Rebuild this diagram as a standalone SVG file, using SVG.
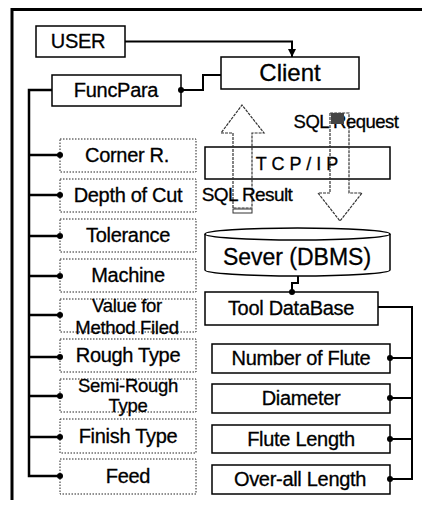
<svg xmlns="http://www.w3.org/2000/svg" width="422" height="506" viewBox="0 0 422 506">
<style>
text{font-family:"Liberation Sans",Arial,sans-serif;fill:#000;text-anchor:middle;stroke:#000;stroke-width:0.3}
.lbl{font-size:20px;letter-spacing:-0.3px}
.two{font-size:18.5px;letter-spacing:-0.3px}
.solid{fill:#fff;stroke:#000;stroke-width:1.5}
.dot{fill:#fff;stroke:#222;stroke-width:1;stroke-dasharray:1.5 1.5}
.big{font-size:24px}
.thick{fill:none;stroke:#000;stroke-width:2.5}
.thin{fill:none;stroke:#000;stroke-width:2}
.blk{fill:none;stroke:#333;stroke-width:1.2;stroke-dasharray:3 1}
.jn{fill:#000}
</style>
<defs>
<marker id="ah" viewBox="0 0 10 10" refX="10" refY="5" markerWidth="8" markerHeight="8" markerUnits="userSpaceOnUse" orient="auto"><path d="M0,0 L10,5 L0,10 Z" fill="#000"/></marker>
</defs>
<rect width="422" height="506" fill="#fff"/>
<path d="M12,500 L12,9.5 L422,9.5" fill="none" stroke="#000" stroke-width="3"/>

<g id="user"><rect class="solid" x="36" y="26" width="89" height="31"/><text class="lbl" x="78" y="48">USER</text></g>
<g id="client"><rect class="solid" x="221" y="57" width="138" height="32"/><text class="big" x="290" y="81">Client</text></g>
<g id="funcpara"><rect class="solid" x="52" y="75" width="129" height="31"/><text class="lbl" x="116" y="97">FuncPara</text></g>

<g id="tcpip"><rect class="solid" x="205" y="147" width="185" height="32"/><text x="297" y="170" style="font-size:18px">T C P / I P</text></g>

<g id="sql-result-arrow">
<path class="blk" d="M233,208 L233,133 L221,133 L242,105 L264,133 L252,133 L252,208 Z"/>
<rect x="233" y="209" width="19" height="4" fill="none" stroke="#333" stroke-width="1"/>
<text x="247" y="201" style="font-size:19px;letter-spacing:-0.6px">SQL Result</text>
</g>
<g id="sql-request-arrow">
<path class="blk" d="M330,113 L330,193 L318,193 L340,221 L362,193 L349,193 L349,113 Z"/>
<text x="346" y="128" style="font-size:18.5px;letter-spacing:-0.5px">SQL Request</text>
<rect x="331" y="113" width="13" height="11" fill="#444"/>
</g>

<g id="server">
<path class="solid" d="M205,234 A92.5,6 0 0 1 390,234 L390,270 A92.5,6 0 0 1 205,270 Z"/>
<path d="M205,234 A92.5,6 0 0 0 390,234" fill="none" stroke="#000" stroke-width="1.5"/>
<text x="297" y="265" style="font-size:23px">Sever (DBMS)</text>
</g>
<g id="tooldb"><rect class="solid" x="205" y="292" width="173" height="33"/><text class="lbl" x="291" y="315">Tool DataBase</text></g>

<g id="corner-r"><rect class="dot" x="60" y="139" width="136" height="33"/><text class="lbl" x="127" y="162">Corner R.</text></g>
<g id="depth-of-cut"><rect class="dot" x="60" y="179" width="136" height="33"/><text class="lbl" x="128" y="202">Depth of Cut</text></g>
<g id="tolerance"><rect class="dot" x="60" y="219" width="136" height="33"/><text class="lbl" x="128" y="242">Tolerance</text></g>
<g id="machine"><rect class="dot" x="60" y="259" width="136" height="33"/><text class="lbl" x="128" y="282">Machine</text></g>
<g id="value-for-method"><rect class="dot" x="60" y="299" width="136" height="33"/><text class="two" x="127" y="312">Value for</text><text class="two" x="127" y="334">Method Filed</text></g>
<g id="rough-type"><rect class="dot" x="60" y="339" width="136" height="33"/><text class="lbl" x="128" y="362">Rough Type</text></g>
<g id="semi-rough-type"><rect class="dot" x="60" y="379" width="136" height="33"/><text class="two" x="128" y="392">Semi-Rough</text><text class="two" x="128" y="412">Type</text></g>
<g id="finish-type"><rect class="dot" x="60" y="419" width="136" height="34"/><text class="lbl" x="128" y="443">Finish Type</text></g>
<g id="feed"><rect class="dot" x="60" y="459" width="136" height="35"/><text class="lbl" x="128" y="483">Feed</text></g>

<g id="number-of-flute"><rect class="solid" x="212" y="344" width="178" height="29"/><text class="lbl" x="301" y="365">Number of Flute</text></g>
<g id="diameter"><rect class="solid" x="212" y="384" width="178" height="29"/><text class="lbl" x="301" y="405">Diameter</text></g>
<g id="flute-length"><rect class="solid" x="212" y="425" width="178" height="28"/><text class="lbl" x="301" y="446">Flute Length</text></g>
<g id="overall-length"><rect class="solid" x="212" y="465" width="178" height="29"/><text class="lbl" x="300" y="486">Over-all Length</text></g>

<g id="connectors">
<path class="thin" d="M125,41.5 L292,41.5 L292,57" marker-end="url(#ah)"/>
<path class="thin" d="M221,75 L203,75 L203,90 L181,90"/>
<circle class="jn" cx="181" cy="90" r="3"/>
<path class="thick" d="M52,90 L29,90 L29,476 L60,476"/>
<path class="thick" d="M29,155 H60 M29,195 H60 M29,236 H60 M29,276 H60 M29,315 H60 M29,357 H60 M29,396 H60 M29,437 H60"/>
<g class="jn">
<circle cx="60" cy="155" r="3"/><circle cx="60" cy="195" r="3"/><circle cx="60" cy="236" r="3"/><circle cx="60" cy="276" r="3"/><circle cx="60" cy="315" r="3"/><circle cx="60" cy="357" r="3"/><circle cx="60" cy="396" r="3"/><circle cx="60" cy="437" r="3"/><circle cx="60" cy="476" r="3"/>
</g>
<path class="thin" d="M298,276 L298,283 L292,283 L292,292"/>
<circle class="jn" cx="292" cy="292" r="3"/>
<path class="thin" d="M378,307 L412,307 L412,479 L390,479"/>
<path class="thin" d="M412,358 H390 M412,398 H390 M412,439 H390"/>
<g class="jn"><circle cx="390" cy="358" r="3"/><circle cx="390" cy="398" r="3"/><circle cx="390" cy="439" r="3"/><circle cx="390" cy="479" r="3"/></g>
</g>
</svg>
